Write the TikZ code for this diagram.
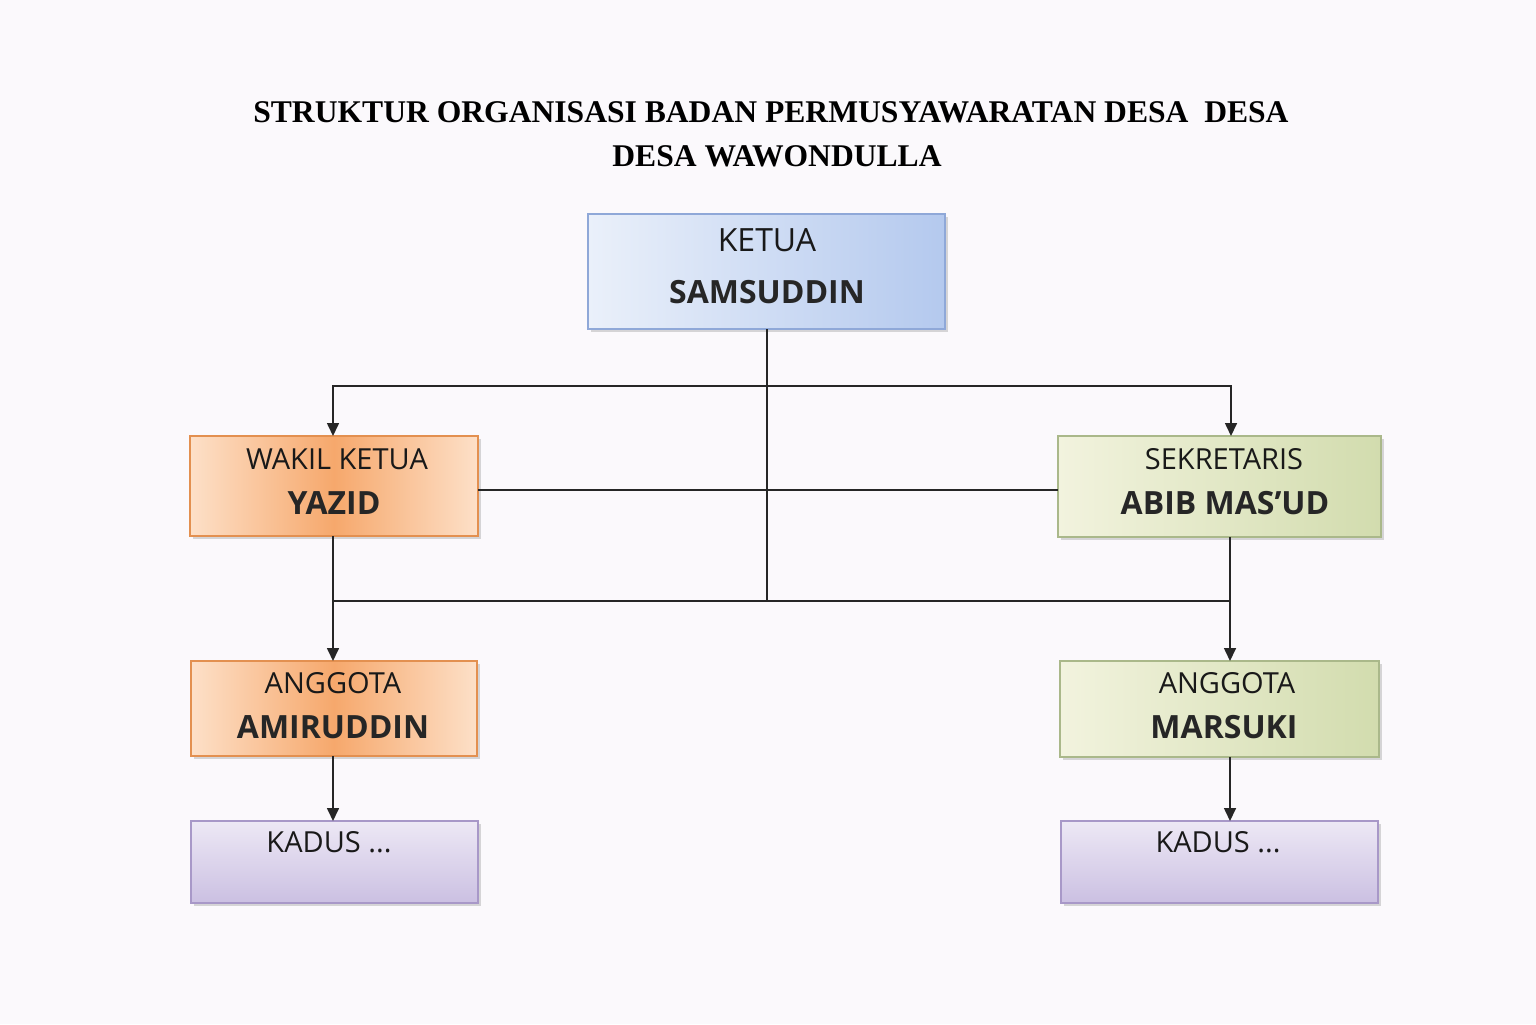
\documentclass[tikz,border=0pt]{standalone}
\usepackage{fontspec}
\setmainfont{Open Sans}
\newfontfamily\titlefont{Liberation Serif}
\usetikzlibrary{arrows.meta,shadows}
\definecolor{bg}{HTML}{FBF9FC}
\definecolor{bd}{HTML}{8FA8D8}
\definecolor{od}{HTML}{E39050}
\definecolor{gd}{HTML}{AAB88A}
\definecolor{pd}{HTML}{A898C8}
\definecolor{b1}{HTML}{EAF0FA}
\definecolor{b2}{HTML}{B4C9EE}
\definecolor{o1}{HTML}{FDE0C8}
\definecolor{o2}{HTML}{F6A86C}
\definecolor{g1}{HTML}{F2F3DE}
\definecolor{g2}{HTML}{D2DCAE}
\definecolor{p1}{HTML}{EDE8F5}
\definecolor{p2}{HTML}{CBC0E2}
\begin{document}
\begin{tikzpicture}[x=0.5pt,y=-0.5pt,
 box/.style={draw=#1,line width=0.8pt,drop shadow={shadow xshift=1.5pt,shadow yshift=-1.5pt,opacity=0.3}},
 lbl/.style={font=\fontsize{14.5}{16}\selectfont,text=black!90},
 nm/.style={font=\fontsize{16}{18}\selectfont\bfseries,text=black!85},
 ln/.style={line width=0.8pt,black!85},
 ar/.style={ln,-{Triangle[length=6.5pt,width=6pt]}}]
\fill[bg] (0,0) rectangle (1536,1024);
\node[font=\titlefont\fontsize{15.8}{17}\selectfont\bfseries] (t1) at (771,112) {STRUKTUR ORGANISASI BADAN PERMUSYAWARATAN DESA\ \ DESA};
\node[font=\titlefont\fontsize{15.8}{17}\selectfont\bfseries] (t2) at (777,156) {DESA WAWONDULLA};
% boxes
\shade[box=bd,left color=b1,right color=b2] (588,214) rectangle (945,329);
\shade[box=od,left color=o1,right color=o1,middle color=o2] (190,436) rectangle (478,536);
\shade[box=gd,left color=g1,right color=g2] (1058,436) rectangle (1381,537);
\shade[box=od,left color=o1,right color=o1,middle color=o2] (191,661) rectangle (477,756);
\shade[box=gd,left color=g1,right color=g2] (1060,661) rectangle (1379,757);
\shade[box=pd,top color=p1,bottom color=p2] (191,821) rectangle (478,903);
\shade[box=pd,top color=p1,bottom color=p2] (1061,821) rectangle (1378,903);
% named anchors
\coordinate (kb) at (767,329);
\coordinate (wt) at (333,436); \coordinate (wb) at (333,536); \coordinate (wr) at (478,490);
\coordinate (st) at (1231,436); \coordinate (sb) at (1230,537); \coordinate (sl) at (1058,490);
\coordinate (alt) at (333,661); \coordinate (alb) at (333,756);
\coordinate (art) at (1230,661); \coordinate (arb) at (1230,757);
\coordinate (klt) at (333,821); \coordinate (krt) at (1230,821);
\coordinate (c1) at (767,386); \coordinate (c2) at (767,601);
\coordinate (h1) at (333,601); \coordinate (h2) at (1230,601);
% texts
\node[lbl,font=\fontsize{16}{18}\selectfont] (kt) at (767,240) {KETUA};
\node[nm] (kn) at (767,292) {SAMSUDDIN};
\node[lbl] (wl) at (337,459) {WAKIL KETUA};
\node[nm] (wn) at (334,503) {YAZID};
\node[lbl] (sl1) at (1224,459) {SEKRETARIS};
\node[nm] (sn) at (1225,503) {ABIB MAS\char"0027 UD};
\node[lbl] (al) at (333,683) {ANGGOTA};
\node[nm] (an) at (333,727) {AMIRUDDIN};
\node[lbl] (arl) at (1227,683) {ANGGOTA};
\node[nm] (arn) at (1224,727) {MARSUKI};
\node[lbl] (kl) at (329,842) {KADUS ...};
\node[lbl] (kr) at (1218,842) {KADUS ...};
% connectors
\draw[ln] (kb) -- (c2);
\draw[ar] (c1) -| (wt);
\draw[ar] (c1) -| (st);
\draw[ln] (wr) -- (sl);
\draw[ar] (wb) -- (alt);
\draw[ar] (sb) -- (art);
\draw[ln] (h1) -- (h2);
\draw[ar] (alb) -- (klt);
\draw[ar] (arb) -- (krt);
\end{tikzpicture}
\end{document}
